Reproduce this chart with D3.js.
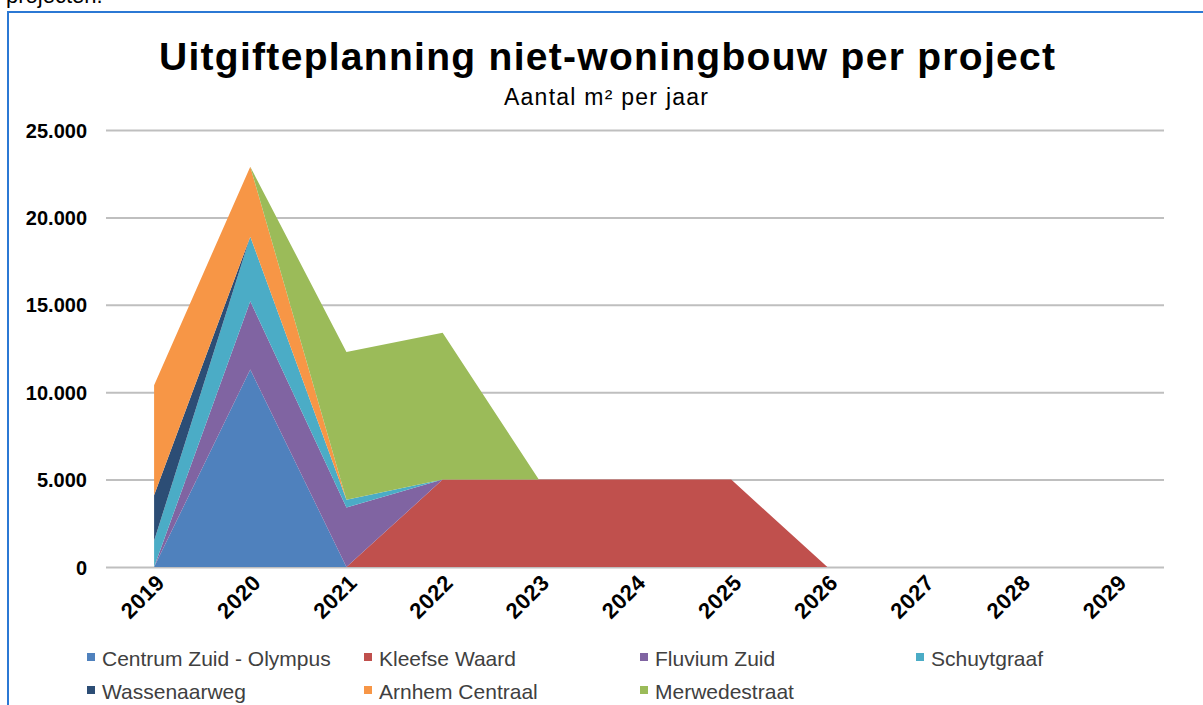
<!DOCTYPE html>
<html>
<head>
<meta charset="utf-8">
<script src="https://cdn.jsdelivr.net/npm/d3@7/dist/d3.min.js"></script>
<style>
  html, body { margin: 0; padding: 0; background: #fff; }
  svg { display: block; font-family: "Liberation Sans", Arial, sans-serif; }
</style>
</head>
<body>
<svg id="chart" width="1203" height="705"></svg>
<script>
// ---- data ----
const years = ["2019","2020","2021","2022","2023","2024","2025","2026","2027","2028","2029"];
const seriesNames = ["Centrum Zuid - Olympus","Kleefse Waard","Fluvium Zuid","Schuytgraaf","Wassenaarweg","Arnhem Centraal","Merwedestraat"];
const seriesColors = ["#4F81BD","#C0504D","#8064A2","#4BACC6","#2C4D75","#F79646","#9BBB59"];
const centrumZuid   = [0, 11300, 0, 0, 0, 0, 0, 0, 0, 0, 0];
const kleefseWaard  = [0, 0, 0, 5000, 5000, 5000, 5000, 0, 0, 0, 0];
const fluviumZuid   = [0, 3900, 3400, 0, 0, 0, 0, 0, 0, 0, 0];
const schuytgraaf   = [1500, 3700, 450, 0, 0, 0, 0, 0, 0, 0, 0];
const wassenaarweg  = [2600, 0, 0, 0, 0, 0, 0, 0, 0, 0, 0];
const arnhemCentraal= [6300, 4000, 0, 0, 0, 0, 0, 0, 0, 0, 0];
const merwedestraat = [0, 0, 8450, 8400, 0, 0, 0, 0, 0, 0, 0];
const yTicks = [0, 5000, 10000, 15000, 20000, 25000];
const titleText = "Uitgifteplanning  niet-woningbouw  per project";
const subtitleText = "Aantal m² per jaar";

const seriesValues = [centrumZuid, kleefseWaard, fluviumZuid, schuytgraaf, wassenaarweg, arnhemCentraal, merwedestraat];

// ---- build table ----
const table = years.map((y, i) => {
  const row = { year: y };
  seriesNames.forEach((n, k) => row[n] = seriesValues[k][i]);
  return row;
});

const svg = d3.select("#chart");

// page fragment text above the frame
svg.append("text").attr("x", 6).attr("y", 3).attr("font-size", 22).attr("fill", "#000").text("projecten.");

// frame
svg.append("rect").attr("x", 8).attr("y", 12).attr("width", 1300).attr("height", 800)
  .attr("fill", "#fff").attr("stroke", "#2B78D4").attr("stroke-width", 2);

const plotLeft = 106, plotRight = 1164, plotTop = 130, plotBottom = 567;

const x = d3.scaleBand().domain(years).range([plotLeft, plotRight]).padding(0);
const xc = d => x(d) + x.bandwidth() / 2;
const y = d3.scaleLinear().domain([0, 25000]).range([plotBottom, plotTop]);

const nl = d3.formatLocale({ decimal: ",", thousands: ".", grouping: [3], currency: ["€", ""] });
const fmt = nl.format(",.0f");

// gridlines
const grid = svg.append("g").attr("transform", `translate(${plotLeft},0)`)
  .call(d3.axisLeft(y).tickValues(yTicks).tickSize(-(plotRight - plotLeft)).tickFormat(""));
grid.select(".domain").remove();
grid.selectAll(".tick line").attr("stroke", "#BFBFBF").attr("stroke-width", 2);

// stacked areas
const stack = d3.stack().keys(seriesNames);
const stacked = stack(table);
const area = d3.area()
  .x(d => xc(d.data.year))
  .y0(d => y(d[0]))
  .y1(d => y(d[1]));

svg.append("g").selectAll("path").data(stacked).join("path")
  .attr("d", area)
  .attr("fill", (d, i) => seriesColors[i]);

// y axis labels
const yAxis = svg.append("g").attr("transform", `translate(${plotLeft - 19},0)`)
  .call(d3.axisLeft(y).tickValues(yTicks).tickSize(0).tickPadding(0).tickFormat(fmt));
yAxis.select(".domain").remove();
yAxis.selectAll("text").attr("font-size", 20).attr("font-weight", "bold")
  .attr("font-family", "Liberation Sans, Arial, sans-serif").attr("fill", "#000").attr("dy", "0.35em");

// x axis labels
const xAxis = svg.append("g").attr("transform", `translate(0,${plotBottom})`)
  .call(d3.axisBottom(x).tickSize(0).tickFormat(d => d));
xAxis.select(".domain").remove();
xAxis.selectAll("text")
  .attr("font-size", 22).attr("font-weight", "bold").attr("letter-spacing", 0.5)
  .attr("font-family", "Liberation Sans, Arial, sans-serif").attr("fill", "#000")
  .attr("text-anchor", "end")
  .attr("dy", null).attr("y", 0)
  .attr("transform", "translate(12,17) rotate(-45)");

// title
svg.append("text").attr("x", 607).attr("y", 70).attr("text-anchor", "middle")
  .attr("font-size", 39).attr("font-weight", "bold").attr("fill", "#000")
  .attr("textLength", 896).attr("lengthAdjust", "spacing")
  .text(titleText);
svg.append("text").attr("x", 606).attr("y", 105).attr("text-anchor", "middle")
  .attr("font-size", 23).attr("fill", "#000")
  .attr("textLength", 204).attr("lengthAdjust", "spacing")
  .text(subtitleText);

// legend
const legendCols = [87, 364, 640, 916];
const legendRows = [666, 699];
const lg = svg.append("g");
seriesNames.forEach((n, i) => {
  const cx = legendCols[i % 4], by = legendRows[Math.floor(i / 4)];
  lg.append("rect").attr("x", cx).attr("y", by - 13).attr("width", 8).attr("height", 8).attr("fill", seriesColors[i]);
  lg.append("text").attr("x", cx + 15).attr("y", by).attr("font-size", 21).attr("fill", "#404040").text(n);
});
</script>
</body>
</html>
